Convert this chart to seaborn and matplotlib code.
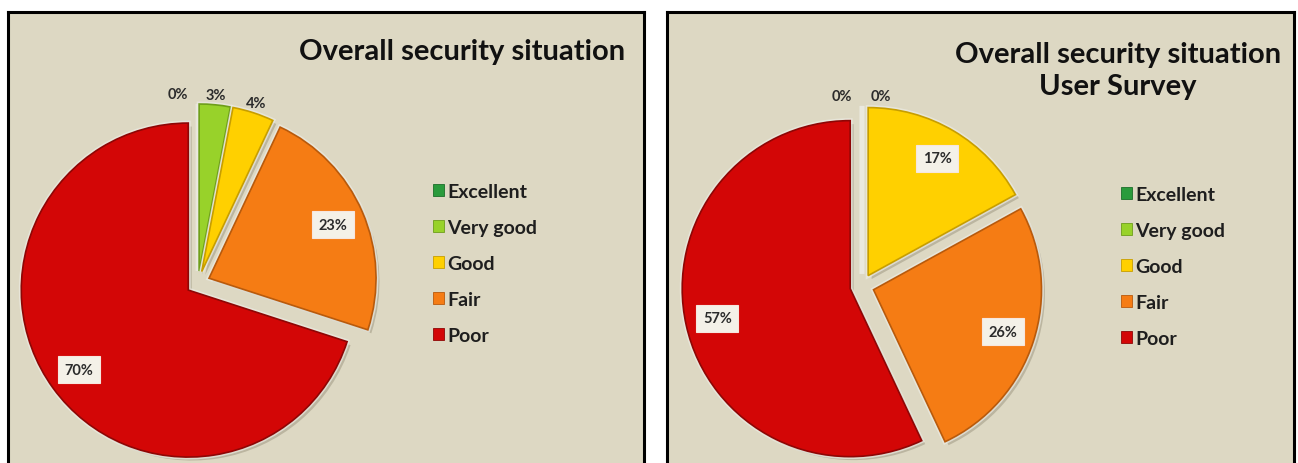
import matplotlib
matplotlib.use("Agg")
import matplotlib.pyplot as plt
import matplotlib.patheffects as pe
import numpy as np
import seaborn as sns

# Ratings and the share of answers for each rating (percent)
categories = ["Excellent", "Very good", "Good", "Fair", "Poor"]
overall_share = [0, 3, 4, 23, 70]
survey_share = [0, 0, 17, 26, 57]

titles = ["Overall security situation", "Overall security situation\nUser Survey"]

sns.set_style("white")
plt.rcParams["font.family"] = ["Lato", "DejaVu Sans"]

palette = ["#2A9B3C", "#98D22A", "#FFD000", "#F57C14", "#D30606"]
edge_palette = ["#1C6E2A", "#6E9E1A", "#C79E00", "#B85A0C", "#8E0605"]
panel_bg = "#DDD8C3"
label_bg = "#F4F1E8"

W, H = 1298, 464
fig = plt.figure(figsize=(W / 100, H / 100), dpi=100, facecolor="white")


def fig_box(x0, y_top, x1, y_bot):
    """Pixel box (y measured from the top) -> figure fraction rect."""
    return [x0 / W, 1 - y_bot / H, (x1 - x0) / W, (y_bot - y_top) / H]


def fx(x):
    return x / W


def fy(y):
    return 1 - y / H


panels = [
    dict(values=overall_share, box=(8, 13, 644, 490), center=(198, 284),
         radius=167, title_xy=(462, 52), legend_xy=(433, 184)),
    dict(values=survey_share, box=(667, 13, 1294, 490), center=(862, 287),
         radius=168, title_xy=(1118, 71), legend_xy=(1121, 187)),
]

# horizontal nudge (in pie radii) for labels of empty slices so they don't overlap
zero_nudge = {"Excellent": -0.12, "Very good": 0.11}
explode_frac = 0.072
lim = 1.3

for p, title in zip(panels, titles):
    # panel background with a black frame
    bg = fig.add_axes(fig_box(*p["box"]))
    bg.set_facecolor(panel_bg)
    bg.set_xticks([])
    bg.set_yticks([])
    for sp in bg.spines.values():
        sp.set_color("black")
        sp.set_linewidth(2.2)

    # pie axes, square, centred on the pie centre
    cx, cy = p["center"]
    half = lim * p["radius"]
    ax = fig.add_axes(fig_box(cx - half, cy - half, cx + half, cy + half))

    vals = p["values"]
    wedges, _ = ax.pie(
        vals,
        colors=palette,
        startangle=90,
        counterclock=False,
        explode=[explode_frac] * len(vals),
        radius=1.0,
        wedgeprops=dict(linewidth=1.2),
    )
    ax.set_xlim(-lim, lim)
    ax.set_ylim(-lim, lim)
    ax.set_aspect("equal")
    ax.axis("off")

    for w, v, ec in zip(wedges, vals, edge_palette):
        w.set_edgecolor(ec)
        if v == 0:
            w.set_linewidth(0)
        w.set_path_effects([
            pe.SimplePatchShadow(offset=(2.5, -2.5), shadow_rgbFace="#7d765f", alpha=0.35),
            pe.Stroke(linewidth=3.5, foreground="#ECEBE3", alpha=0.7),
            pe.Normal(),
        ])

    # percentage labels
    for w, v, cat in zip(wedges, vals, categories):
        mid = np.deg2rad((w.theta1 + w.theta2) / 2)
        wx, wy = w.center
        if v >= 10:
            r = 0.81
            box = dict(boxstyle="square,pad=0.45", fc=label_bg, ec="#F7E6DE", lw=0.8)
        else:
            r = 1.06
            box = None
        tx = wx + r * np.cos(mid)
        ty = wy + r * np.sin(mid)
        if v == 0:
            tx += zero_nudge.get(cat, 0.0)
        ax.text(tx, ty, f"{v}%", ha="center", va="center", fontsize=10.5,
                fontweight="bold", color="#2b2b2b", bbox=box)

    # title
    tx, ty = p["title_xy"]
    fig.text(fx(tx), fy(ty), title, ha="center", va="center", fontsize=21,
             fontweight="bold", color="#111111", linespacing=1.3)

    # legend
    lx, ly = p["legend_xy"]
    leg = fig.legend(
        wedges, categories,
        loc="upper left", bbox_to_anchor=(fx(lx), fy(ly)),
        bbox_transform=fig.transFigure,
        frameon=False, borderpad=0, borderaxespad=0,
        handlelength=0.55, handleheight=0.55, handletextpad=0.2,
        labelspacing=0.98,
        prop=dict(size=14, weight="bold"),
    )
    for t in leg.get_texts():
        t.set_color("#1e1e1e")
    for h in leg.legend_handles:
        h.set_path_effects([])
        h.set_linewidth(0.6)

fig.savefig("out.png", dpi=100, facecolor="white")
